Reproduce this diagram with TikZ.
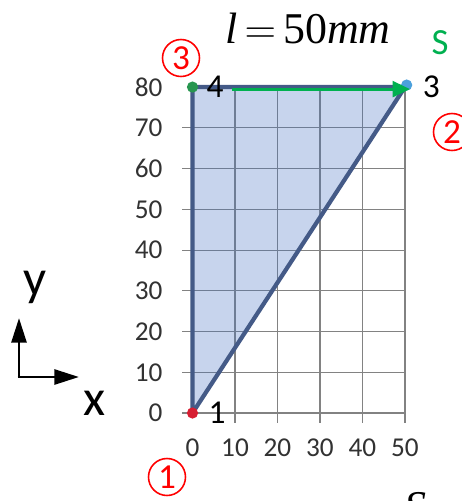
\documentclass[tikz,border=0pt]{standalone}
\usepackage{fontspec}
\setmainfont{Carlito}
\newfontfamily\timesfont{Liberation Serif}
\usetikzlibrary{arrows.meta, positioning, calc}

\definecolor{edgeblue}{RGB}{68,90,135}
\definecolor{areablue}{RGB}{68,114,196}
\definecolor{gridgray}{RGB}{130,130,130}
\definecolor{ticktext}{RGB}{50,50,50}
\definecolor{sgreen}{RGB}{0,176,80}
\definecolor{dotgreen}{RGB}{40,150,80}
\definecolor{dotblue}{RGB}{75,160,220}
\definecolor{dotred}{RGB}{215,30,50}

\tikzset{
  gridline/.style={gridgray, line width=0.6pt},
  triedge/.style={edgeblue, line width=2.4pt, line join=round},
  ticklbl/.style={ticktext, inner sep=0pt, font=\fontsize{15.5}{16}\selectfont},
  ptlbl/.style={black, inner sep=0pt, font=\fontsize{19}{19}\selectfont},
  circnum/.style={circle, draw=red, text=red, line width=0.9pt, minimum size=0.74cm,
    inner sep=0pt, font=\fontsize{20}{20}\selectfont},
  axarrow/.style={line width=1.6pt, -{Triangle[length=14pt, width=8.5pt]}},
}

\begin{document}
\begin{tikzpicture}[x=0.02cm, y=-0.02cm]
    \useasboundingbox (0,0) rectangle (462,501);
    % title
    \node[anchor=base, inner sep=0pt, font=\fontsize{25}{26}\selectfont\timesfont] (title) at (308,43)
      {\textit{l}\hspace{4pt}$=$\hspace{4pt}50\textit{mm}};
    \node[sgreen, font=\fontsize{21}{21}\selectfont] (slabel) at (440,43) {S};
    \node[anchor=base, inner sep=0pt, font=\fontsize{25}{26}\selectfont\timesfont] (sbottom) at (415,521) {\textit{S}};
    % axes sketch
    \coordinate (O) at (19,377);
    \coordinate (Ytip) at (19,318);
    \coordinate (Xtip) at (79,377);
    \draw[axarrow] (O) -- (Ytip);
    \draw[axarrow] ([xshift=-0.8pt]O) -- (Xtip);
    \node[font=\fontsize{29}{29}\selectfont] (ylabel) at (35,287) {y};
    \node[font=\fontsize{29}{29}\selectfont] (xlabel) at (95,403) {x};
    % plot
    \begin{scope}[shift={(192.5,413)}, x=0.085cm, y=0.0815cm]
      \coordinate (P1) at (0,0);
      \coordinate (P3) at (50,80);
      \coordinate (P4) at (0,80);
      \foreach \y in {0,10,...,70} {
        \draw[gridline] (-2.4,\y) -- (50,\y);
        \node[ticklbl, anchor=east] (ty\y) at (-7,\y) {\y};
      }
      \node[ticklbl, anchor=east] (ty80) at (-7,80) {80};
      \foreach \x in {10,20,...,50} {
        \draw[gridline] (\x,-2.45) -- (\x,80);
      }
      \foreach \x in {0,10,...,50} {
        \node[ticklbl] (tx\x) at (\x,-8.6) {\x};
      }
      \fill[areablue, opacity=0.3] (P1) -- (P3) -- (P4) -- cycle;
      \draw[triedge] (P1) -- (P3) -- (P4) -- cycle;
      \fill[dotgreen] (P4) circle[radius=3.2pt];
      \fill[dotblue] ($(P3)+(0.4,0.5)$) circle[radius=3.2pt];
      \fill[dotred] (P1) circle[radius=3.2pt];
      \coordinate (Astart) at (9.3,79.5);
      \coordinate (Aend) at (51.2,79.5);
      \draw[sgreen, line width=1.8pt, -{Triangle[length=10pt, width=9pt]}] (Astart) -- (Aend);
      \node[ptlbl] (n4) at (5.3,80) {4};
      \node[ptlbl] (n3) at (56.2,80) {3};
      \node[ptlbl] (n1) at (5.8,0) {1};
    \end{scope}
    % circled numbers
    \node[circnum] (c3) at (181,58) {3};
    \node[circnum] (c2) at (452,132) {2};
    \node[circnum] (c1) at (167,477) {1};
\end{tikzpicture}
\end{document}
